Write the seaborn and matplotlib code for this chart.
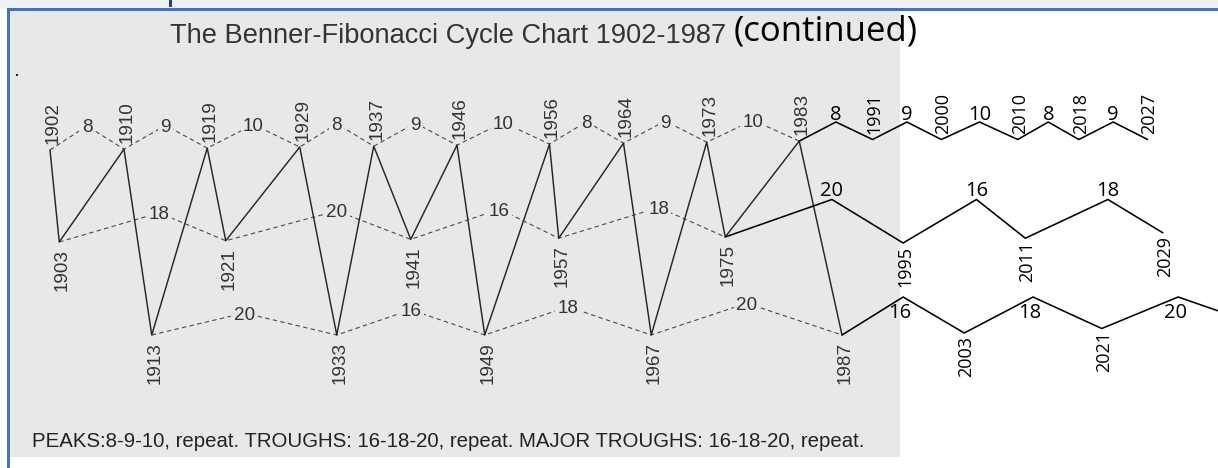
import numpy as np
import pandas as pd
import matplotlib
matplotlib.use("Agg")
import matplotlib.pyplot as plt
import seaborn as sns
from matplotlib.patches import Rectangle

# ---------------- data ----------------
peak_years_hist = [1902, 1910, 1919, 1929, 1937, 1946, 1956, 1964, 1973, 1983]
peak_cycles_hist = [8, 9, 10, 8, 9, 10, 8, 9, 10]
trough_years_hist = [1903, 1921, 1941, 1957, 1975]
trough_cycles_hist = [18, 20, 16, 18]
major_years_hist = [1913, 1933, 1949, 1967, 1987]
major_cycles_hist = [20, 16, 18, 20]

peak_years_fcst = [1983, 1991, 2000, 2010, 2018, 2027]
peak_cycles_fcst = [8, 9, 10, 8, 9]
trough_years_fcst = [1975, 1995, 2011, 2029]
trough_cycles_fcst = [20, 16, 18]
major_years_fcst = [1987, 2003, 2021, 2041]
major_cycles_fcst = [16, 18, 20]

title_main = "The Benner-Fibonacci Cycle Chart 1902-1987"
title_extra = "(continued)"
footnote = "PEAKS:8-9-10, repeat. TROUGHS: 16-18-20, repeat. MAJOR TROUGHS: 16-18-20, repeat."

# ---------------- style ----------------
W, H, DPI = 1218, 468, 100
sns.set_style("white")
OLD_FONT = ["Liberation Sans", "DejaVu Sans"]
NEW_FONT = ["Open Sans", "DejaVu Sans"]
plt.rcParams["font.family"] = OLD_FONT
BG = "#e8e8e8"
OLD_INK = "#333333"
OLD_LINE = "#262626"
OLD_DASH = "#4a4a4a"
NEW_INK = "#000000"
FRAME = "#4472c4"
OLD_FS = 13.6
NEW_YEAR_FS = 13.0
NEW_CYC_FS = 14.5

# time axis: the drawn forecast section is compressed relative to history
KY = [1890.0, 1983.0, 1987.0, 2050.0]
KX = [-61.0, 799.25, 842.0, 1323.3]


def fwd(v):
    return np.interp(np.asarray(v, float), KY, KX)


def inv(v):
    return np.interp(np.asarray(v, float), KX, KY)


def level(base, ref, slope=0.0):
    return lambda yr: base + slope * (np.asarray(yr, float) - ref)


LV = {
    "P_old": (level(150, 1902, -0.11), level(126, 1906, -0.08)),
    "T_old": (level(242, 1903, -0.07), level(213, 1912, -0.10)),
    "M_old": (level(335, 1913, 0.0), level(313, 1923, -0.18)),
    "P_new": (level(139.5, 1991), level(122, 1995)),
    "T_new": (level(243, 1995, -0.3), level(199.5, 2000)),
    "M_new": (level(337, 1987, -0.25), level(297, 2000)),
}
FRAC = {"P": 0.5, "T": 0.6, "M": 0.5}


def zigzag(years, row, era, first_from_old=False):
    vfun, afun = LV[f"{row}_{era}"]
    verts = []
    for i, yr in enumerate(years):
        f = LV[f"{row}_old"][0] if (i == 0 and first_from_old) else vfun
        verts.append((yr, float(f(yr))))
    pts, apexes = [], []
    for i, (yr, yv) in enumerate(verts):
        pts.append((yr, yv))
        if i < len(verts) - 1:
            x0, x1 = fwd(yr), fwd(verts[i + 1][0])
            a = float(inv(x0 + FRAC[row] * (x1 - x0)))
            av = float(afun(a))
            pts.append((a, av))
            apexes.append((a, av))
    return verts, apexes, pts


# ---------------- figure ----------------
fig = plt.figure(figsize=(W / DPI, H / DPI), dpi=DPI, facecolor="white")


def px_rect(x0, y0, x1, y1, color):
    fig.patches.append(Rectangle((x0 / W, 1 - y1 / H), (x1 - x0) / W, (y1 - y0) / H,
                                 transform=fig.transFigure, facecolor=color,
                                 edgecolor="none", zorder=-5))


px_rect(0, 0, W, 9, "#eef1f6")
px_rect(9, 10, 900, 457, BG)
px_rect(7, 8, W, 10.5, FRAME)
px_rect(7, 8, 9.5, H, FRAME)
px_rect(168.5, 0, 171.5, 7, "#23408e")
px_rect(16, 74, 18, 76, "#222222")

ax = fig.add_axes([0, 0, 1, 1])
ax.patch.set_alpha(0)
ax.set_xscale("function", functions=(fwd, inv))
ax.set_xlim(float(inv(0)), float(inv(W)))
ax.set_ylim(H, 0)
ax.axis("off")


def label(s, yr, yv, dx=0.0, dy=0.0, **kw):
    ax.annotate(s, xy=(yr, yv), xytext=(dx * 72 / DPI, -dy * 72 / DPI),
                textcoords="offset points", annotation_clip=False, **kw)


# ---------- historical section (dashed cycle links + solid zigzag) ----------
hist_rows = [("P", peak_years_hist, peak_cycles_hist),
             ("T", trough_years_hist, trough_cycles_hist),
             ("M", major_years_hist, major_cycles_hist)]
dash_frames = []
old_verts = []
for row, yrs, cyc in hist_rows:
    verts, apexes, pts = zigzag(yrs, row, "old")
    dash_frames.append(pd.DataFrame({"year": [p[0] for p in pts],
                                     "y": [p[1] for p in pts], "row": row}))
    old_verts += [(v[0], v[1], row) for v in verts]
    for (a, av), c in zip(apexes, cyc):
        label(str(c), a, av, 0, 6.5, ha="center", va="baseline", fontsize=OLD_FS,
              color=OLD_INK, family=OLD_FONT,
              bbox=dict(boxstyle="square,pad=0.12", fc=BG, ec="none"))
    for yr, yv in verts:
        if row == "P":
            label(str(yr), yr, yv, 3, -6, ha="center", va="bottom", rotation=90,
                  fontsize=OLD_FS, color=OLD_INK, family=OLD_FONT)
        else:
            label(str(yr), yr, yv, 3, 7, ha="center", va="top", rotation=90,
                  fontsize=OLD_FS, color=OLD_INK, family=OLD_FONT)

df_dash = pd.concat(dash_frames, ignore_index=True)
sns.lineplot(data=df_dash, x="year", y="y", units="row", estimator=None, sort=False,
             color=OLD_DASH, linewidth=0.8, linestyle=(0, (4, 3)), ax=ax, legend=False)

old_verts.sort(key=lambda t: t[0])
df_zig = pd.DataFrame(old_verts, columns=["year", "y", "row"])
sns.lineplot(data=df_zig, x="year", y="y", estimator=None, sort=False,
             color=OLD_LINE, linewidth=1.05, ax=ax, legend=False)

# ---------- forecast section (solid) ----------
fc_rows = [("P", peak_years_fcst, peak_cycles_fcst),
           ("T", trough_years_fcst, trough_cycles_fcst),
           ("M", major_years_fcst, major_cycles_fcst)]
fc_frames = []
for row, yrs, cyc in fc_rows:
    verts, apexes, pts = zigzag(yrs, row, "new", first_from_old=True)
    fc_frames.append(pd.DataFrame({"year": [p[0] for p in pts],
                                   "y": [p[1] for p in pts], "row": row}))
    for (a, av), c in zip(apexes, cyc):
        if row == "M":
            label(str(c), a, av, -3, 21, ha="center", va="baseline", fontsize=NEW_CYC_FS,
                  color=NEW_INK, family=NEW_FONT)
        else:
            label(str(c), a, av, 0, -2 if row == "P" else -4, ha="center",
                  va="baseline", fontsize=NEW_CYC_FS, color=NEW_INK, family=NEW_FONT)
    for yr, yv in verts[1:]:
        if fwd(yr) > W:
            continue
        if row == "P":
            label(str(yr), yr, yv, 2, -6, ha="center", va="bottom", rotation=90,
                  fontsize=NEW_YEAR_FS, color=NEW_INK, family=NEW_FONT)
        else:
            label(str(yr), yr, yv, 2, 3, ha="center", va="top", rotation=90,
                  fontsize=NEW_YEAR_FS, color=NEW_INK, family=NEW_FONT)

df_fc = pd.concat(fc_frames, ignore_index=True)
sns.lineplot(data=df_fc, x="year", y="y", units="row", estimator=None, sort=False,
             color=NEW_INK, linewidth=1.15, ax=ax, legend=False)

# ---------- titles / notes ----------
fig.text(170 / W, 1 - 43 / H, title_main, ha="left", va="baseline", fontsize=19.6,
         color=OLD_INK, family=OLD_FONT)
fig.text(734 / W, 1 - 41 / H, title_extra, ha="left", va="baseline", fontsize=25,
         color=NEW_INK, family=NEW_FONT)
fig.text(32 / W, 1 - 447 / H, footnote, ha="left", va="baseline", fontsize=14.7,
         color="#222222", family=OLD_FONT)

fig.savefig("out.png", dpi=DPI, facecolor="white")
